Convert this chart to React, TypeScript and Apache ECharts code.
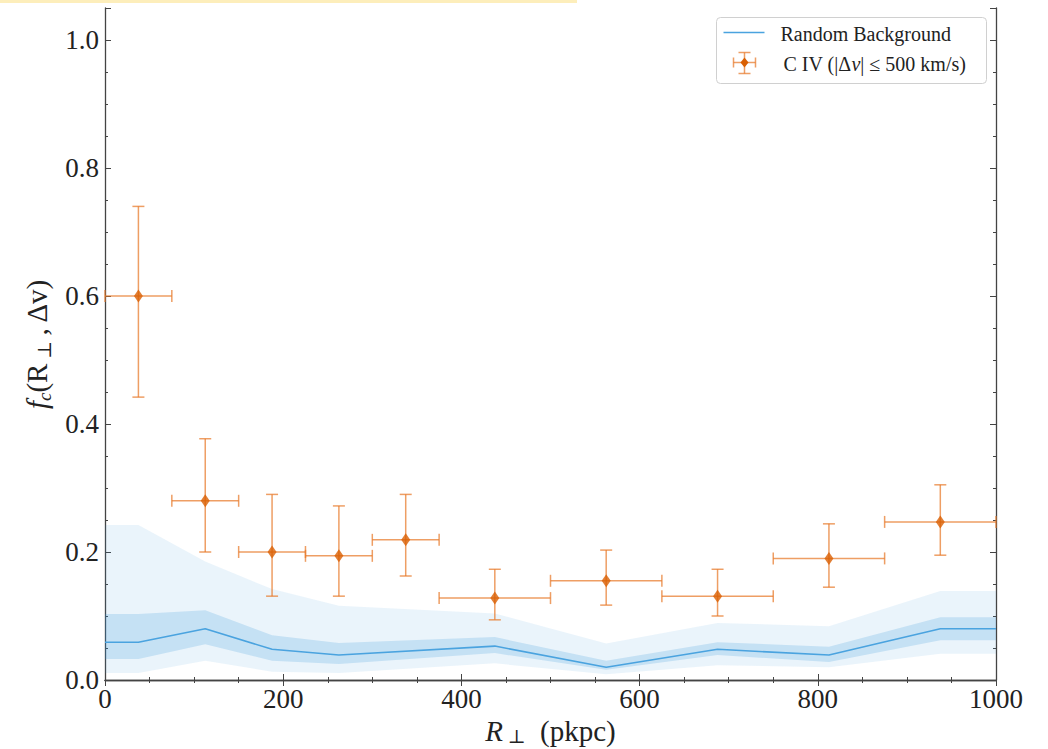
import React, { useEffect, useRef } from "react";
import * as echarts from "echarts";

// ---- Data ----
const binCenters = [37.5, 112.5, 187.5, 262.5, 337.5, 437.5, 562.5, 687.5, 812.5, 937.5];
const binLow = [0, 75, 150, 225, 300, 375, 500, 625, 750, 875];
const binHigh = [75, 150, 225, 300, 375, 500, 625, 750, 875, 1000];
const fcValues = [0.6, 0.28, 0.2, 0.194, 0.219, 0.128, 0.155, 0.131, 0.19, 0.247];
const fcLow = [0.442, 0.2, 0.131, 0.131, 0.1625, 0.094, 0.117, 0.1, 0.145, 0.195];
const fcHigh = [0.74, 0.377, 0.29, 0.272, 0.29, 0.173, 0.203, 0.173, 0.244, 0.305];

const bgX = [0, 37.5, 112.5, 187.5, 262.5, 437.5, 562.5, 687.5, 812.5, 937.5, 1000];
const bgMedian = [0.059, 0.059, 0.08, 0.048, 0.039, 0.053, 0.02, 0.048, 0.039, 0.08, 0.08];
const bgInnerLo = [0.033, 0.033, 0.056, 0.03, 0.025, 0.042, 0.016, 0.039, 0.028, 0.062, 0.062];
const bgInnerHi = [0.103, 0.103, 0.109, 0.07, 0.058, 0.067, 0.03, 0.059, 0.052, 0.098, 0.098];
const bgOuterLo = [0.011, 0.011, 0.03, 0.013, 0.011, 0.026, 0.009, 0.023, 0.02, 0.041, 0.041];
const bgOuterHi = [0.242, 0.242, 0.185, 0.142, 0.116, 0.104, 0.057, 0.089, 0.084, 0.139, 0.139];

const xTicks = [0, 200, 400, 600, 800, 1000];
const yTickLabels = ["0.0", "0.2", "0.4", "0.6", "0.8", "1.0"];

const SERIF = "'Liberation Serif', 'DejaVu Serif', serif";
const ORANGE = "#d95f02";
const ERR = "rgba(232,120,40,0.72)";
const BLUE = "#4aa3df";
const AXIS = "#444";

export default function App() {
  const ref = useRef<HTMLDivElement>(null);
  useEffect(() => {
    if (!ref.current) return;
    const chart = echarts.init(ref.current, null, { renderer: "svg" });

    const pairs = (xs: number[], ys: number[]) => xs.map((x, i) => [x, ys[i]]);

    const yLabel = (v: number) => {
      const k = v * 5;
      if (Math.abs(k - Math.round(k)) > 1e-6) return "";
      return yTickLabels[Math.round(k)] ?? "";
    };
    const xLabel = (v: number) => (xTicks.some((t) => Math.abs(t - v) < 1e-6) ? String(Math.round(v)) : "");

    const baseY = {
      type: "value",
      min: 0,
      max: 1.05,
      splitLine: { show: false },
    };

    const bandSeries = (name: string, lo: number[], hi: number[], fill: string, z: number) => ({
      name,
      type: "custom",
      data: bgX.map((x, i) => [x, lo[i], hi[i]]),
      encode: { x: 0, y: [1, 2] },
      silent: true,
      z,
      renderItem: (params: any, api: any) => {
        if (params.dataIndex !== 0) return null;
        const upper = bgX.map((x, i) => api.coord([x, hi[i]]));
        const lower = bgX.map((x, i) => api.coord([x, lo[i]])).reverse();
        return {
          type: "polygon",
          shape: { points: upper.concat(lower) },
          style: { fill, stroke: "none" },
        };
      },
    });

    const errData = binCenters.map((x, i) => [x, fcValues[i], binLow[i], binHigh[i], fcLow[i], fcHigh[i]]);

    const makeRich = (pad: number) => ({
      i: { fontFamily: SERIF, fontSize: 29, fontStyle: "italic", color: "#222" },
      ic: { fontFamily: SERIF, fontSize: 19, fontStyle: "italic", color: "#222", verticalAlign: "bottom", padding: [pad, 0, 0, 0] },
      s: { fontFamily: SERIF, fontSize: 19, color: "#222", verticalAlign: "bottom", padding: [pad, 0, 0, 0] },
      n: { fontFamily: SERIF, fontSize: 29, color: "#222" },
    });

    const option: any = {
      animation: false,
      backgroundColor: "#fff",
      grid: { left: 105, right: 52, top: 8, bottom: 69, containLabel: false, outerBoundsMode: "none" },
      xAxis: [
        {
          type: "value",
          min: 0,
          max: 1000,
          interval: 200,
          position: "bottom",
          axisLine: { show: true, lineStyle: { color: AXIS, width: 1.3 } },
          axisTick: { show: true, inside: true, length: 6, lineStyle: { color: AXIS, width: 1 } },
          minorTick: { show: true, splitNumber: 4, length: 3, lineStyle: { color: AXIS, width: 1 } },
          splitLine: { show: false },
          axisLabel: { fontFamily: SERIF, fontSize: 27, color: "#222", margin: 5, formatter: xLabel },
          name: "{i|R}{s| ⊥}{n|  (pkpc)}",
          nameLocation: "middle",
          nameGap: 34,
          nameTextStyle: { fontFamily: SERIF, fontSize: 29, color: "#222", rich: makeRich(11) },
        },
        {
          type: "value",
          min: 0,
          max: 1000,
          interval: 200,
          position: "top",
          axisLine: { show: true, lineStyle: { color: AXIS, width: 1.3 } },
          axisTick: { show: true, inside: true, length: 6, lineStyle: { color: AXIS, width: 1 } },
          minorTick: { show: true, splitNumber: 4, length: 3, lineStyle: { color: AXIS, width: 1 } },
          splitLine: { show: false },
          axisLabel: { show: false },
        },
      ],
      yAxis: [
        {
          ...baseY,
          interval: 0.05,
          position: "left",
          axisLine: { show: true, lineStyle: { color: AXIS, width: 1.3 } },
          axisTick: { show: true, inside: true, length: 3, lineStyle: { color: AXIS, width: 1 } },
          axisLabel: { fontFamily: SERIF, fontSize: 27, color: "#222", margin: 6, formatter: yLabel },
          name: "{i|f}{ic|c}{n|(R}{s| ⊥ }{n|, Δv)}",
          nameLocation: "middle",
          nameGap: 48,
          nameRotate: 90,
          nameTextStyle: { fontFamily: SERIF, fontSize: 29, color: "#222", rich: makeRich(16) },
        },
        {
          ...baseY,
          interval: 0.2,
          position: "left",
          axisLine: { show: false },
          axisTick: { show: true, inside: true, length: 6, lineStyle: { color: AXIS, width: 1 } },
          axisLabel: { show: false },
        },
        {
          ...baseY,
          interval: 0.05,
          position: "right",
          axisLine: { show: true, lineStyle: { color: AXIS, width: 1.3 } },
          axisTick: { show: true, inside: true, length: 3, lineStyle: { color: AXIS, width: 1 } },
          axisLabel: { show: false },
        },
        {
          ...baseY,
          interval: 0.2,
          position: "right",
          axisLine: { show: false },
          axisTick: { show: true, inside: true, length: 6, lineStyle: { color: AXIS, width: 1 } },
          axisLabel: { show: false },
        },
      ],
      series: [
        bandSeries("outerBand", bgOuterLo, bgOuterHi, "rgba(52,152,219,0.1)", 1),
        bandSeries("innerBand", bgInnerLo, bgInnerHi, "rgba(52,152,219,0.2)", 2),
        {
          name: "Random Background",
          type: "line",
          data: pairs(bgX, bgMedian),
          showSymbol: false,
          lineStyle: { color: BLUE, width: 1.6 },
          z: 3,
        },
        {
          name: "errors",
          type: "custom",
          data: errData,
          encode: { x: 0, y: 1 },
          z: 4,
          renderItem: (params: any, api: any) => {
            const x = api.value(0);
            const y = api.value(1);
            const pL = api.coord([api.value(2), y]);
            const pH = api.coord([api.value(3), y]);
            const pB = api.coord([x, api.value(4)]);
            const pT = api.coord([x, api.value(5)]);
            const cap = 6;
            const st = { stroke: ERR, lineWidth: 1.5 };
            const ln = (x1: number, y1: number, x2: number, y2: number) => ({
              type: "line",
              shape: { x1, y1, x2, y2 },
              style: st,
            });
            return {
              type: "group",
              children: [
                ln(pL[0], pL[1], pH[0], pH[1]),
                ln(pB[0], pB[1], pT[0], pT[1]),
                ln(pL[0], pL[1] - cap, pL[0], pL[1] + cap),
                ln(pH[0], pH[1] - cap, pH[0], pH[1] + cap),
                ln(pB[0] - cap, pB[1], pB[0] + cap, pB[1]),
                ln(pT[0] - cap, pT[1], pT[0] + cap, pT[1]),
              ],
            };
          },
        },
        {
          name: "C IV",
          type: "scatter",
          data: pairs(binCenters, fcValues),
          symbol: "diamond",
          symbolSize: [9, 13],
          itemStyle: { color: ORANGE },
          z: 5,
        },
      ],
      graphic: [
        { type: "rect", left: 0, top: 0, shape: { width: 577, height: 3 }, style: { fill: "#fdeebb" } },
        {
          type: "group",
          left: 716,
          top: 17,
          children: [
            {
              type: "rect",
              shape: { x: 0, y: 0, width: 270, height: 66, r: 4 },
              style: { fill: "rgba(255,255,255,0.85)", stroke: "#d0d0d0", lineWidth: 1 },
            },
            { type: "line", shape: { x1: 7, y1: 15, x2: 48, y2: 15 }, style: { stroke: BLUE, lineWidth: 1.6 } },
            {
              type: "text",
              x: 64,
              y: 16,
              style: { text: "Random Background", font: "20px " + SERIF, fill: "#222", textVerticalAlign: "middle" },
            },
            { type: "line", shape: { x1: 17, y1: 45, x2: 39, y2: 45 }, style: { stroke: ERR, lineWidth: 1.5 } },
            { type: "line", shape: { x1: 28, y1: 35, x2: 28, y2: 56 }, style: { stroke: ERR, lineWidth: 1.5 } },
            { type: "line", shape: { x1: 17, y1: 40, x2: 17, y2: 50 }, style: { stroke: ERR, lineWidth: 1.5 } },
            { type: "line", shape: { x1: 39, y1: 40, x2: 39, y2: 50 }, style: { stroke: ERR, lineWidth: 1.5 } },
            { type: "line", shape: { x1: 22, y1: 35, x2: 34, y2: 35 }, style: { stroke: ERR, lineWidth: 1.5 } },
            { type: "line", shape: { x1: 22, y1: 56, x2: 34, y2: 56 }, style: { stroke: ERR, lineWidth: 1.5 } },
            {
              type: "polygon",
              shape: { points: [[28, 40], [32, 45], [28, 50], [24, 45]] },
              style: { fill: ORANGE },
            },
            {
              type: "text",
              x: 67,
              y: 46,
              style: {
                text: "{n|C IV (|Δ}{i|v}{n|| ≤ 500 km/s)}",
                font: "20px " + SERIF,
                fill: "#222",
                textVerticalAlign: "middle",
                rich: {
                  n: { fontFamily: SERIF, fontSize: 20, fill: "#222" },
                  i: { fontFamily: SERIF, fontSize: 20, fontStyle: "italic", fill: "#222" },
                },
              },
            },
          ],
        },
      ],
    };

    chart.setOption(option);
    return () => chart.dispose();
  }, []);

  return (
    <div
      ref={ref}
      style={{ position: "absolute", left: 0, top: 0, width: 1048, height: 749, background: "#fff" }}
    />
  );
}
